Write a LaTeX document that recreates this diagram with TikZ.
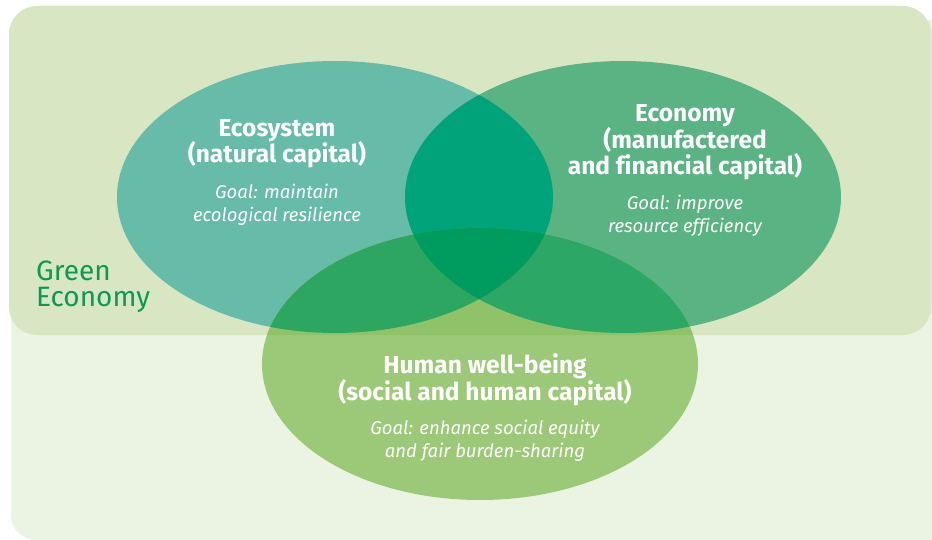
\documentclass[tikz,border=0pt]{standalone}
\usepackage{fontspec}
\setmainfont[Ligatures=NoCommon]{Fira Sans}
\usetikzlibrary{positioning}

\definecolor{bgtop}{HTML}{D9E6C3}
\definecolor{bglow}{HTML}{EBF3E3}
\definecolor{ecofill}{HTML}{67BBA9}
\definecolor{econfill}{HTML}{5AB383}
\definecolor{humfill}{HTML}{9CC977}
\definecolor{humtop}{HTML}{8FC269}
\definecolor{ecoecon}{HTML}{00A37A}
\definecolor{ecohum}{HTML}{2DA661}
\definecolor{econhum}{HTML}{2CA766}
\definecolor{allthree}{HTML}{009B5E}
\definecolor{greenlabel}{HTML}{0A9A52}

\newcommand\ecoshape{(335,197) ellipse [x radius=218, y radius=136]}
\newcommand\econshape{(623,197) ellipse [x radius=218, y radius=136]}
\newcommand\humshape{(480,364) ellipse [x radius=218, y radius=136]}
\newcommand\topband{(9,6) rectangle (931,335)}

\tikzset{
  heading/.style={text=white, font=\bfseries\fontsize{24.5}{26.5}\selectfont, align=center, inner sep=0pt, anchor=base},
  goal/.style={text=white, font=\itshape\fontsize{18.5}{23}\selectfont, align=center, inner sep=0pt, anchor=base}
}

\begin{document}
\begin{tikzpicture}[x=1pt,y=-1pt]
	\useasboundingbox (0,0) rectangle (932,540);
	% background
	\fill[bglow, rounded corners=25] (11,20) rectangle (960,540);
	\fill[bgtop, rounded corners=28] \topband;
	% circles
	\fill[ecofill] \ecoshape;
	\fill[econfill] \econshape;
	\fill[humfill] \humshape;
	\begin{scope}
		\clip[rounded corners=28] \topband;
		\fill[humtop] \humshape;
	\end{scope}
	% overlaps
	\begin{scope}
		\clip \ecoshape;
		\fill[ecoecon] \econshape;
		\fill[ecohum] \humshape;
	\end{scope}
	\begin{scope}
		\clip \econshape;
		\fill[econhum] \humshape;
	\end{scope}
	\begin{scope}
		\clip \ecoshape;
		\clip \econshape;
		\fill[allthree] \humshape;
	\end{scope}
	% texts (base = last line)
	\node (green) at (36,306) [anchor=base west, align=left, inner sep=0pt, text=greenlabel,
		font=\fontsize{28}{26}\selectfont] {Green\\Economy};
	\node (ecotitle) at (277,163) [heading] {Ecosystem\\(natural capital)};
	\node (ecogoal) at (277,222) [goal] {Goal: maintain\\ecological resilience};
	\node (econtitle) at (685,175) [heading] {Economy\\(manufactered\\and financial capital)};
	\node (econgoal) at (685,233) [goal] {Goal: improve\\resource efficiency};
	\node (humtitle) at (485,400) [heading] {Human well-being\\(social and human capital)};
	\node (humgoal) at (485,457) [goal] {Goal: enhance social equity\\and fair burden-sharing};
\end{tikzpicture}
\end{document}
